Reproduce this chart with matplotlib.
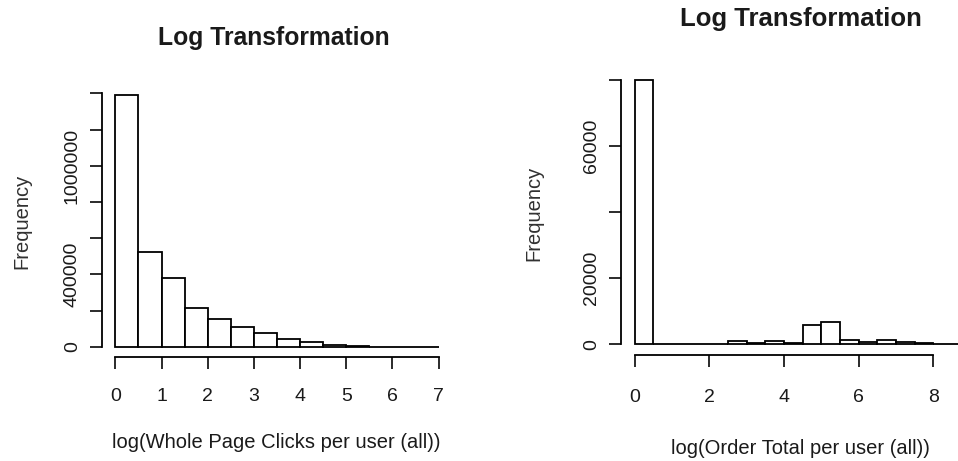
import numpy as np
import matplotlib
matplotlib.use("Agg")
import matplotlib.pyplot as plt

plt.rcParams['font.family'] = ['Liberation Sans', 'DejaVu Sans']

# histogram counts (bins of width 0.5)
clicks_edges = np.arange(0, 7.01, 0.5)
clicks_counts = [1392000, 523000, 377000, 214000, 155000, 110000, 74000,
                 42400, 24000, 7000, 6000, 800, 400, 200]

order_edges = np.arange(0, 9.01, 0.5)
order_counts = [80000, 0, 0, 0, 0, 1000, 400, 1000, 400, 5850, 6760,
                1400, 800, 1400, 800, 400, 80, 30]

clicks_yticks = [0, 200000, 400000, 600000, 800000, 1000000, 1200000, 1400000]
clicks_ylabels = ['0', '', '400000', '', '', '1000000', '', '']
clicks_xticks = [0, 1, 2, 3, 4, 5, 6, 7]

order_yticks = [0, 20000, 40000, 60000, 80000]
order_ylabels = ['0', '20000', '', '60000', '']
order_xticks = [0, 2, 4, 6, 8]

W, H = 958, 461
fig = plt.figure(figsize=(W / 100, H / 100), dpi=100)


def rhist(ax, edges, counts, xticks, yticks, ylabels, xpad, ypad):
    # R style: usr range 4% past the data, axis lines only across the ticks
    lo, hi = edges[0], edges[-1]
    top = max(counts)
    ax.bar(edges[:-1], counts, width=np.diff(edges), align='edge',
           color='white', edgecolor='black', linewidth=1.3)
    ax.set_xlim(lo - 0.04 * (hi - lo), hi + 0.04 * (hi - lo))
    ax.set_ylim(-0.04 * top, 1.04 * top)
    for s in ['top', 'right']:
        ax.spines[s].set_visible(False)
    ax.spines['left'].set_bounds(yticks[0], yticks[-1])
    ax.spines['bottom'].set_bounds(xticks[0], xticks[-1])
    for s in ['left', 'bottom']:
        ax.spines[s].set_linewidth(1.3)
    ax.set_xticks(xticks)
    ax.set_xticklabels([str(t) for t in xticks])
    ax.set_yticks(yticks)
    ax.set_yticklabels(ylabels, rotation=90, va='center')
    ax.tick_params(axis='both', direction='out', length=8.5, width=1.3,
                   labelsize=14, colors='#1a1a1a')
    ax.tick_params(axis='x', pad=xpad)
    ax.tick_params(axis='y', pad=ypad)
    ax.patch.set_visible(False)


def px_axes(l, r, t, b):
    return fig.add_axes([l / W, (H - b) / H, (r - l) / W, (b - t) / H])


ax1 = px_axes(102.4, 451.6, 84.7, 356.8)
rhist(ax1, clicks_edges, clicks_counts, clicks_xticks, clicks_yticks,
      clicks_ylabels, 14, 7)

ax2 = px_axes(621.3, 984.1, 69.4, 354.9)
rhist(ax2, order_edges, order_counts, order_xticks, order_yticks,
      order_ylabels, 16, 7)


def ftext(x, y, s, **kw):
    fig.text(x / W, 1 - y / H, s, ha='center', va='center',
             color='#1a1a1a', **kw)


ftext(274, 38, 'Log Transformation', fontsize=17.8, fontweight='bold')
ftext(801, 19, 'Log Transformation', fontsize=18.5, fontweight='bold')
ftext(276, 442, 'log(Whole Page Clicks per user (all))', fontsize=14.5)
ftext(800, 448, 'log(Order Total per user (all))', fontsize=14.5)
ftext(22, 221, 'Frequency', fontsize=14.5, rotation=90, alpha=0.9)
ftext(534, 213, 'Frequency', fontsize=14.5, rotation=90, alpha=0.9)

fig.savefig('out.png', dpi=100)
